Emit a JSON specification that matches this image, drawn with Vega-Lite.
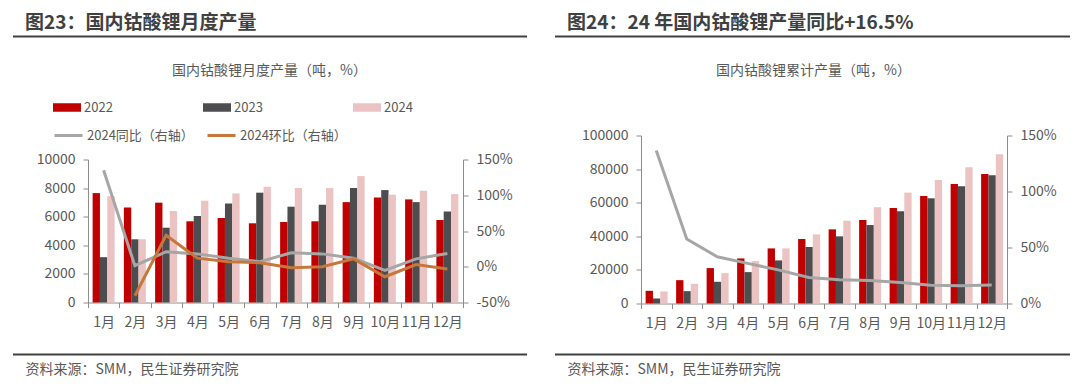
{
  "$schema": "https://vega.github.io/schema/vega-lite/v6.json",
  "padding": {"left": 12, "top": 13.5, "right": 0, "bottom": 0},
  "background": "white",
  "config": {
    "font": "Noto Sans CJK SC",
    "view": {"stroke": null},
    "axis": {"labelFont": "Noto Sans CJK SC", "labelFontSize": 14, "labelColor": "#595959", "domainColor": "#8c8c8c", "tickColor": "#8c8c8c", "grid": false, "tickSize": 5, "titleFont": "Noto Sans CJK SC"},
    "legend": {"labelFont": "Noto Sans CJK SC", "labelFontSize": 13, "labelColor": "#595959", "padding": 0, "labelOffset": 3},
    "title": {"font": "Noto Sans CJK SC"}
  },
  "datasets": {
    "m": [
      {"month": "1月", "year": "2022", "value": 7650}, {"month": "1月", "year": "2023", "value": 3170}, {"month": "1月", "year": "2024", "value": 7440},
      {"month": "2月", "year": "2022", "value": 6650}, {"month": "2月", "year": "2023", "value": 4420}, {"month": "2月", "year": "2024", "value": 4420},
      {"month": "3月", "year": "2022", "value": 6980}, {"month": "3月", "year": "2023", "value": 5230}, {"month": "3月", "year": "2024", "value": 6400},
      {"month": "4月", "year": "2022", "value": 5680}, {"month": "4月", "year": "2023", "value": 6050}, {"month": "4月", "year": "2024", "value": 7120},
      {"month": "5月", "year": "2022", "value": 5910}, {"month": "5月", "year": "2023", "value": 6930}, {"month": "5月", "year": "2024", "value": 7630},
      {"month": "6月", "year": "2022", "value": 5540}, {"month": "6月", "year": "2023", "value": 7680}, {"month": "6月", "year": "2024", "value": 8090},
      {"month": "7月", "year": "2022", "value": 5630}, {"month": "7月", "year": "2023", "value": 6700}, {"month": "7月", "year": "2024", "value": 8000},
      {"month": "8月", "year": "2022", "value": 5680}, {"month": "8月", "year": "2023", "value": 6840}, {"month": "8月", "year": "2024", "value": 8000},
      {"month": "9月", "year": "2022", "value": 7020}, {"month": "9月", "year": "2023", "value": 8000}, {"month": "9月", "year": "2024", "value": 8840},
      {"month": "10月", "year": "2022", "value": 7350}, {"month": "10月", "year": "2023", "value": 7860}, {"month": "10月", "year": "2024", "value": 7540},
      {"month": "11月", "year": "2022", "value": 7210}, {"month": "11月", "year": "2023", "value": 7020}, {"month": "11月", "year": "2024", "value": 7810},
      {"month": "12月", "year": "2022", "value": 5770}, {"month": "12月", "year": "2023", "value": 6370}, {"month": "12月", "year": "2024", "value": 7580}
    ],
    "ml": [
      {"month": "1月", "series": "2024同比（右轴）", "pct": 135},
      {"month": "2月", "series": "2024同比（右轴）", "pct": 1.5},
      {"month": "3月", "series": "2024同比（右轴）", "pct": 21},
      {"month": "4月", "series": "2024同比（右轴）", "pct": 18},
      {"month": "5月", "series": "2024同比（右轴）", "pct": 12},
      {"month": "6月", "series": "2024同比（右轴）", "pct": 7},
      {"month": "7月", "series": "2024同比（右轴）", "pct": 19.5},
      {"month": "8月", "series": "2024同比（右轴）", "pct": 18},
      {"month": "9月", "series": "2024同比（右轴）", "pct": 12},
      {"month": "10月", "series": "2024同比（右轴）", "pct": -5},
      {"month": "11月", "series": "2024同比（右轴）", "pct": 11},
      {"month": "12月", "series": "2024同比（右轴）", "pct": 18.6},
      {"month": "2月", "series": "2024环比（右轴）", "pct": -40.5},
      {"month": "3月", "series": "2024环比（右轴）", "pct": 44},
      {"month": "4月", "series": "2024环比（右轴）", "pct": 12},
      {"month": "5月", "series": "2024环比（右轴）", "pct": 7},
      {"month": "6月", "series": "2024环比（右轴）", "pct": 5.6},
      {"month": "7月", "series": "2024环比（右轴）", "pct": -1.4},
      {"month": "8月", "series": "2024环比（右轴）", "pct": 0},
      {"month": "9月", "series": "2024环比（右轴）", "pct": 11},
      {"month": "10月", "series": "2024环比（右轴）", "pct": -14},
      {"month": "11月", "series": "2024环比（右轴）", "pct": 3},
      {"month": "12月", "series": "2024环比（右轴）", "pct": -3}
    ],
    "c": [
      {"month": "1月", "year": "2022", "value": 7550}, {"month": "1月", "year": "2023", "value": 2980}, {"month": "1月", "year": "2024", "value": 7160},
      {"month": "2月", "year": "2022", "value": 13900}, {"month": "2月", "year": "2023", "value": 7360}, {"month": "2月", "year": "2024", "value": 11730},
      {"month": "3月", "year": "2022", "value": 21070}, {"month": "3月", "year": "2023", "value": 12920}, {"month": "3月", "year": "2024", "value": 18090},
      {"month": "4月", "year": "2022", "value": 26840}, {"month": "4月", "year": "2023", "value": 18690}, {"month": "4月", "year": "2024", "value": 25250},
      {"month": "5月", "year": "2022", "value": 32800}, {"month": "5月", "year": "2023", "value": 25650}, {"month": "5月", "year": "2024", "value": 32800},
      {"month": "6月", "year": "2022", "value": 38370}, {"month": "6月", "year": "2023", "value": 33600}, {"month": "6月", "year": "2024", "value": 41150},
      {"month": "7月", "year": "2022", "value": 44130}, {"month": "7月", "year": "2023", "value": 39960}, {"month": "7月", "year": "2024", "value": 49300},
      {"month": "8月", "year": "2022", "value": 49700}, {"month": "8月", "year": "2023", "value": 46700}, {"month": "8月", "year": "2024", "value": 57250},
      {"month": "9月", "year": "2022", "value": 56860}, {"month": "9月", "year": "2023", "value": 54870}, {"month": "9月", "year": "2024", "value": 66000},
      {"month": "10月", "year": "2022", "value": 64010}, {"month": "10月", "year": "2023", "value": 62620}, {"month": "10月", "year": "2024", "value": 73560},
      {"month": "11月", "year": "2022", "value": 71170}, {"month": "11月", "year": "2023", "value": 69780}, {"month": "11月", "year": "2024", "value": 81110},
      {"month": "12月", "year": "2022", "value": 77130}, {"month": "12月", "year": "2023", "value": 76340}, {"month": "12月", "year": "2024", "value": 88860}
    ],
    "cl": [
      {"month": "1月", "series": "2024同比（右轴）", "pct": 136.6},
      {"month": "2月", "series": "2024同比（右轴）", "pct": 57.6},
      {"month": "3月", "series": "2024同比（右轴）", "pct": 41.7},
      {"month": "4月", "series": "2024同比（右轴）", "pct": 35.8},
      {"month": "5月", "series": "2024同比（右轴）", "pct": 30},
      {"month": "6月", "series": "2024同比（右轴）", "pct": 23.3},
      {"month": "7月", "series": "2024同比（右轴）", "pct": 21.2},
      {"month": "8月", "series": "2024同比（右轴）", "pct": 20.6},
      {"month": "9月", "series": "2024同比（右轴）", "pct": 18.8},
      {"month": "10月", "series": "2024同比（右轴）", "pct": 16.4},
      {"month": "11月", "series": "2024同比（右轴）", "pct": 15.8},
      {"month": "12月", "series": "2024同比（右轴）", "pct": 16.5}
    ],
    "edges": [{"edge": "top"}, {"edge": "bottom"}]
  },
  "bounds": "flush",
  "spacing": 28,
  "hconcat": [
    {
      "width": 514,
      "height": 318,
      "title": {"text": "图23：国内钴酸锂月度产量", "anchor": "start", "frame": "group", "dx": 12, "fontSize": 19, "fontWeight": "bold", "color": "#404040", "offset": 3},
      "resolve": {"scale": {"y": "independent"}, "axis": {"y": "independent"}},
      "layer": [
        {
          "data": {"name": "m"},
          "mark": {"type": "bar"},
          "encoding": {
            "x": {"field": "month", "type": "nominal", "sort": null,
              "scale": {"domain": ["1月","2月","3月","4月","5月","6月","7月","8月","9月","10月","11月","12月"], "range": [75, 450], "paddingInner": 0, "paddingOuter": 0},
              "axis": {"orient": "bottom", "offset": -52, "labelAngle": 0, "tickBand": "extent", "labelPadding": 8, "title": "资料来源：SMM，民生证券研究院", "titleX": 12, "titleY": 67, "titleAlign": "left", "titleAnchor": "start", "titleBaseline": "middle", "titleFontSize": 14, "titleFontWeight": "normal", "titleColor": "#595959"}},
            "xOffset": {"field": "year", "type": "nominal", "scale": {"domain": ["2022","2023","2024"], "paddingInner": 0, "paddingOuter": 0.63}},
            "y": {"field": "value", "type": "quantitative",
              "scale": {"domain": [0, 10000], "range": [266, 123], "nice": false, "zero": true},
              "axis": {"orient": "left", "offset": -75, "values": [0, 2000, 4000, 6000, 8000, 10000], "format": "d", "labelPadding": 8, "title": "国内钴酸锂月度产量（吨，%）", "titleAngle": 0, "titleX": 181, "titleY": 34, "titleAlign": "center", "titleBaseline": "middle", "titleFontSize": 14, "titleFontWeight": "normal", "titleColor": "#595959"}},
            "fill": {"field": "year", "type": "nominal",
              "scale": {"domain": ["2022","2023","2024"], "range": ["#c00000", "#4d4d4f", "#ecc3c3"]},
              "legend": {"orient": "none", "legendX": 40, "legendY": 57, "direction": "horizontal", "columns": 3, "columnPadding": 90, "title": null, "symbolType": "M-1,-0.3h2v0.6h-2z", "symbolSize": 784, "symbolStrokeWidth": 0, "clipHeight": 28}}
          }
        },
        {
          "data": {"name": "ml"},
          "mark": {"type": "line", "strokeWidth": 3},
          "encoding": {
            "x": {"field": "month", "type": "nominal", "sort": null,
              "scale": {"domain": ["1月","2月","3月","4月","5月","6月","7月","8月","9月","10月","11月","12月"], "range": [75, 450], "paddingInner": 0, "paddingOuter": 0},
              "axis": {"orient": "bottom", "offset": -52, "labelAngle": 0, "tickBand": "extent", "labelPadding": 8, "title": "资料来源：SMM，民生证券研究院", "titleX": 12, "titleY": 67, "titleAlign": "left", "titleAnchor": "start", "titleBaseline": "middle", "titleFontSize": 14, "titleFontWeight": "normal", "titleColor": "#595959"}},
            "y": {"field": "pct", "type": "quantitative",
              "scale": {"domain": [-50, 150], "range": [266, 123], "nice": false, "zero": false},
              "axis": {"orient": "right", "offset": -64, "values": [-50, 0, 50, 100, 150], "labelExpr": "datum.value + '%'", "labelPadding": 8, "title": null}},
            "stroke": {"field": "series", "type": "nominal",
              "scale": {"domain": ["2024同比（右轴）", "2024环比（右轴）"], "range": ["#a6a6a6", "#c5773c"]},
              "legend": {"orient": "none", "legendX": 40, "legendY": 85, "direction": "horizontal", "columns": 2, "columnPadding": 12, "title": null, "symbolType": "stroke", "symbolSize": 784, "symbolStrokeWidth": 3, "clipHeight": 28}}
          }
        },
        {
          "data": {"name": "edges"},
          "mark": {"type": "rule", "color": "#404040", "strokeWidth": 2},
          "encoding": {
            "y": {"field": "edge", "type": "nominal", "scale": {"type": "point", "domain": ["top", "bottom"], "padding": 0}, "axis": null}
          }
        }
      ]
    },
    {
      "width": 515,
      "height": 318,
      "title": {"text": "图24：24 年国内钴酸锂产量同比+16.5%", "anchor": "start", "frame": "group", "dx": 12, "fontSize": 19, "fontWeight": "bold", "color": "#404040", "offset": 3},
      "resolve": {"scale": {"y": "independent"}, "axis": {"y": "independent"}},
      "layer": [
        {
          "data": {"name": "c"},
          "mark": {"type": "bar"},
          "encoding": {
            "x": {"field": "month", "type": "nominal", "sort": null,
              "scale": {"domain": ["1月","2月","3月","4月","5月","6月","7月","8月","9月","10月","11月","12月"], "range": [86, 452], "paddingInner": 0, "paddingOuter": 0},
              "axis": {"orient": "bottom", "offset": -51, "labelAngle": 0, "tickBand": "extent", "labelPadding": 8, "title": "资料来源：SMM，民生证券研究院", "titleX": 12, "titleY": 66, "titleAlign": "left", "titleAnchor": "start", "titleBaseline": "middle", "titleFontSize": 14, "titleFontWeight": "normal", "titleColor": "#595959"}},
            "xOffset": {"field": "year", "type": "nominal", "scale": {"domain": ["2022","2023","2024"], "paddingInner": 0, "paddingOuter": 0.68}},
            "y": {"field": "value", "type": "quantitative",
              "scale": {"domain": [0, 100000], "range": [267, 99], "nice": false, "zero": true},
              "axis": {"orient": "left", "offset": -86, "values": [0, 20000, 40000, 60000, 80000, 100000], "format": "d", "labelPadding": 8, "title": "国内钴酸锂累计产量（吨，%）", "titleAngle": 0, "titleX": 172, "titleY": 34, "titleAlign": "center", "titleBaseline": "middle", "titleFontSize": 14, "titleFontWeight": "normal", "titleColor": "#595959"}},
            "fill": {"field": "year", "type": "nominal",
              "scale": {"domain": ["2022","2023","2024"], "range": ["#c00000", "#4d4d4f", "#ecc3c3"]},
              "legend": {"orient": "none", "legendX": 69, "legendY": 57, "direction": "horizontal", "columns": 3, "columnPadding": 21, "title": null, "symbolType": "M-1,-0.3h2v0.6h-2z", "symbolSize": 784, "symbolStrokeWidth": 0, "clipHeight": 28}}
          }
        },
        {
          "data": {"name": "cl"},
          "mark": {"type": "line", "strokeWidth": 3},
          "encoding": {
            "x": {"field": "month", "type": "nominal", "sort": null,
              "scale": {"domain": ["1月","2月","3月","4月","5月","6月","7月","8月","9月","10月","11月","12月"], "range": [86, 452], "paddingInner": 0, "paddingOuter": 0},
              "axis": {"orient": "bottom", "offset": -51, "labelAngle": 0, "tickBand": "extent", "labelPadding": 8, "title": "资料来源：SMM，民生证券研究院", "titleX": 12, "titleY": 66, "titleAlign": "left", "titleAnchor": "start", "titleBaseline": "middle", "titleFontSize": 14, "titleFontWeight": "normal", "titleColor": "#595959"}},
            "y": {"field": "pct", "type": "quantitative",
              "scale": {"domain": [0, 150], "range": [267, 99], "nice": false, "zero": false},
              "axis": {"orient": "right", "offset": -63, "values": [0, 50, 100, 150], "labelExpr": "datum.value + '%'", "labelPadding": 8, "title": null}},
            "stroke": {"field": "series", "type": "nominal",
              "scale": {"domain": ["2024同比（右轴）"], "range": ["#a6a6a6"]},
              "legend": {"orient": "none", "legendX": 311, "legendY": 57, "direction": "horizontal", "columns": 1, "title": null, "symbolType": "stroke", "symbolSize": 784, "symbolStrokeWidth": 3, "clipHeight": 28}}
          }
        },
        {
          "data": {"name": "edges"},
          "mark": {"type": "rule", "color": "#404040", "strokeWidth": 2},
          "encoding": {
            "y": {"field": "edge", "type": "nominal", "scale": {"type": "point", "domain": ["top", "bottom"], "padding": 0}, "axis": null}
          }
        }
      ]
    }
  ]
}
